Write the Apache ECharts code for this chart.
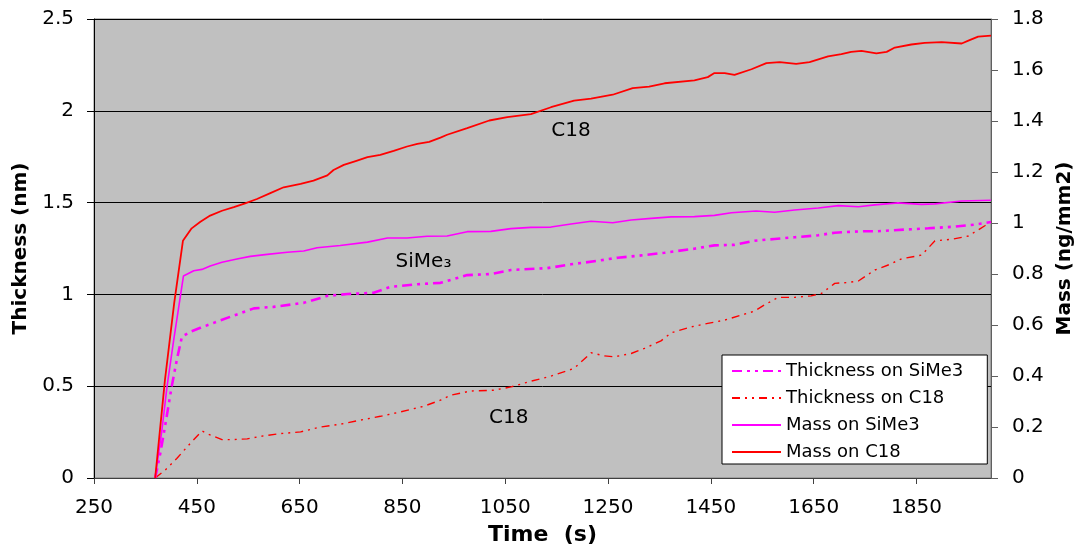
<!DOCTYPE html>
<html><head><meta charset="utf-8">
<script src="https://cdn.jsdelivr.net/npm/echarts@6/dist/echarts.min.js"></script>
<style>html,body{margin:0;padding:0;background:#fff}#c{width:1077px;height:546px}</style>
</head><body><div id="c"></div>
<script>
// ---- data ----
const timeTicks = [250, 450, 650, 850, 1050, 1250, 1450, 1650, 1850];
const seriesNames = ['Thickness on SiMe3', 'Thickness on C18', 'Mass on SiMe3', 'Mass on C18'];

const thickSiMe3Time = [369,379,388,401,411,421,437,457,483,515,561,599,658,704,743,794,827,879,924,976,1022,1061,1132,1178,1230,1269,1308,1360,1418,1457,1496,1535,1574,1613,1659,1691,1743,1775,1834,1873,1925,1964,1995];
const thickSiMe3 = [0,0.135,0.278,0.496,0.642,0.769,0.796,0.818,0.845,0.878,0.924,0.932,0.954,0.992,1.002,1.009,1.041,1.055,1.063,1.105,1.111,1.133,1.143,1.164,1.183,1.200,1.210,1.227,1.249,1.267,1.270,1.292,1.302,1.311,1.322,1.336,1.344,1.344,1.354,1.360,1.369,1.380,1.394];

const thickC18Time = [369,388,411,437,460,473,499,518,548,574,613,652,691,729,768,807,846,892,924,944,983,1028,1061,1100,1139,1184,1217,1243,1262,1295,1321,1353,1373,1412,1444,1477,1509,1535,1554,1581,1613,1645,1665,1691,1717,1737,1769,1795,1821,1860,1886,1918,1951,1983,1995];
const thickC18 = [0,0.042,0.106,0.188,0.256,0.238,0.209,0.209,0.213,0.227,0.242,0.251,0.278,0.293,0.315,0.336,0.360,0.391,0.424,0.451,0.474,0.478,0.496,0.527,0.555,0.597,0.682,0.665,0.660,0.678,0.706,0.747,0.791,0.823,0.842,0.860,0.887,0.909,0.942,0.984,0.984,0.992,1.005,1.060,1.065,1.073,1.133,1.160,1.194,1.214,1.292,1.300,1.318,1.374,1.396];

const massSiMe3Time = [369,382,392,405,424,444,460,476,499,528,554,587,626,658,684,729,782,821,859,898,937,976,1022,1061,1100,1139,1178,1217,1259,1295,1334,1373,1418,1457,1490,1538,1574,1613,1659,1698,1737,1769,1814,1860,1886,1938,1995];
const massSiMe3 = [0,0.187,0.357,0.541,0.792,0.813,0.818,0.831,0.846,0.859,0.869,0.877,0.885,0.890,0.903,0.912,0.925,0.941,0.941,0.948,0.949,0.966,0.967,0.978,0.983,0.984,0.996,1.007,1.001,1.012,1.018,1.024,1.025,1.030,1.040,1.047,1.042,1.051,1.059,1.068,1.064,1.071,1.079,1.073,1.075,1.086,1.089];

const massC18Time = [369,388,406,423,440,457,476,499,522,544,567,593,619,652,677,704,716,736,759,782,807,833,859,879,902,924,937,976,1019,1054,1100,1139,1184,1217,1259,1298,1330,1360,1418,1444,1457,1477,1496,1529,1558,1584,1616,1642,1678,1704,1723,1743,1772,1792,1808,1840,1866,1899,1938,1951,1970,1995];
const massC18 = [0,0.384,0.686,0.930,0.979,1.005,1.029,1.048,1.062,1.077,1.094,1.117,1.140,1.153,1.166,1.187,1.208,1.228,1.243,1.258,1.267,1.283,1.300,1.310,1.318,1.335,1.346,1.372,1.402,1.415,1.427,1.454,1.480,1.488,1.503,1.529,1.535,1.548,1.559,1.572,1.588,1.588,1.581,1.603,1.627,1.631,1.624,1.631,1.653,1.662,1.671,1.675,1.665,1.671,1.688,1.700,1.706,1.709,1.704,1.715,1.731,1.735];

// annotation labels (text, time, thickness)
const annotText = ['C18', 'SiMe\u2083', 'C18'];
const annotTime = [1178, 891, 1057];
const annotThick = [1.89, 1.18, 0.328];

// ---- chart ----
const pair = (t, v) => t.map((x, i) => [x, v[i]]);
const FONT = 'DejaVu Sans';
const chart = echarts.init(document.getElementById('c'), null, {renderer: 'canvas'});

const option = {
  animation: false,
  backgroundColor: '#ffffff',
  textStyle: {fontFamily: FONT, color: '#000'},
  grid: {left: 94, right: 86, top: 19, bottom: 68, show: true, containLabel: false,
         outerBoundsMode: 'none',
         backgroundColor: '#C0C0C0', borderColor: '#808080', borderWidth: 1},
  legend: {
    left: 722, top: 355, orient: 'vertical',
    backgroundColor: '#ffffff', borderColor: '#000', borderWidth: 1,
    padding: [6, 24, 2, 9], itemGap: 7, itemWidth: 49, itemHeight: 14, itemTextGap: 11,
    itemStyle: {opacity: 0},
    textStyle: {fontFamily: FONT, fontSize: 18, color: '#000', lineHeight: 20},
    data: seriesNames
  },
  xAxis: {
    type: 'value', min: 250, max: 1995,
    name: 'Time  (s)', nameLocation: 'middle', nameGap: 46,
    nameTextStyle: {fontFamily: FONT, fontSize: 22, fontWeight: 'bold', color: '#000'},
    axisLine: {show: true, onZero: false, lineStyle: {color: '#404040', width: 1}},
    axisTick: {show: true, length: 6, customValues: timeTicks, lineStyle: {color: '#404040'}},
    axisLabel: {customValues: timeTicks, margin: 20, fontFamily: FONT, fontSize: 20, color: '#000',
                formatter: v => String(v)},
    splitLine: {show: false}
  },
  yAxis: [{
    type: 'value', min: 0, max: 2.5, interval: 0.5, position: 'left',
    name: 'Thickness (nm)', nameLocation: 'middle', nameGap: 62, nameRotate: 90,
    nameTextStyle: {fontFamily: FONT, fontSize: 20, fontWeight: 'bold', color: '#000'},
    axisLine: {show: true, lineStyle: {color: '#000', width: 1}},
    axisTick: {show: true, length: 7, lineStyle: {color: '#000'}},
    axisLabel: {margin: 20, fontFamily: FONT, fontSize: 20, color: '#000'},
    splitLine: {show: true, lineStyle: {color: '#000', width: 1}}
  }, {
    type: 'value', min: 0, max: 1.8, interval: 0.2, position: 'right',
    name: 'Mass (ng/mm2)', nameLocation: 'middle', nameGap: 62, nameRotate: 90,
    nameTextStyle: {fontFamily: FONT, fontSize: 20, fontWeight: 'bold', color: '#000'},
    axisLine: {show: true, lineStyle: {color: '#606060', width: 1}},
    axisTick: {show: true, length: 7, lineStyle: {color: '#606060'}},
    axisLabel: {margin: 21, fontFamily: FONT, fontSize: 20, color: '#000'},
    splitLine: {show: false}
  }],
  series: [
    {name: seriesNames[0], type: 'line', yAxisIndex: 0, symbol: 'none', z: 4,
     data: pair(thickSiMe3Time, thickSiMe3),
     lineStyle: {color: '#FF00FF', width: 2.6, type: [10, 5, 3, 5, 3, 5]}, itemStyle: {color: '#FF00FF'}},
    {name: seriesNames[1], type: 'line', yAxisIndex: 0, symbol: 'none', z: 3,
     data: pair(thickC18Time, thickC18),
     lineStyle: {color: '#FF0000', width: 1.4, type: [8, 5, 2, 5, 2, 5]}, itemStyle: {color: '#FF0000'}},
    {name: seriesNames[2], type: 'line', yAxisIndex: 1, symbol: 'none', z: 5,
     data: pair(massSiMe3Time, massSiMe3),
     lineStyle: {color: '#FF00FF', width: 1.6, type: 'solid'}, itemStyle: {color: '#FF00FF'}},
    {name: seriesNames[3], type: 'line', yAxisIndex: 1, symbol: 'none', z: 5,
     data: pair(massC18Time, massC18),
     lineStyle: {color: '#FF0000', width: 1.8, type: 'solid'}, itemStyle: {color: '#FF0000'}}
  ]
};
chart.setOption(option);

// place annotation labels at data coordinates
const graphics = annotText.map((txt, i) => {
  const p = chart.convertToPixel({xAxisIndex: 0, yAxisIndex: 0}, [annotTime[i], annotThick[i]]);
  return {type: 'text', x: p[0], y: p[1], z: 10,
          style: {text: txt, fontFamily: FONT, fontSize: 20, fill: '#000', align: 'center', verticalAlign: 'middle'}};
});
chart.setOption({graphic: graphics});
</script></body></html>
